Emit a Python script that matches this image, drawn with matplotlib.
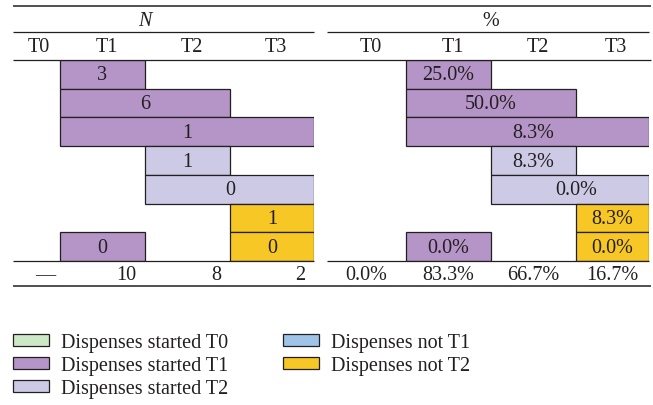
import numpy as np
import matplotlib
matplotlib.use('Agg')
import matplotlib.pyplot as plt
from matplotlib.patches import Patch
from matplotlib.lines import Line2D

plt.rcParams['font.family'] = ['Liberation Serif', 'DejaVu Serif']
plt.rcParams['font.size'] = 14.5
plt.rcParams['text.color'] = '#231f20'

# %% data

periods = ['T0', 'T1', 'T2', 'T3']

# one entry per bar: row (top = 0), first period, number of periods covered
bar_row = [0, 1, 2, 3, 4, 5, 6, 6]
bar_start = [1, 1, 1, 2, 2, 3, 1, 3]
bar_span = [1, 2, 3, 1, 2, 1, 1, 1]
bar_group = ['started T1', 'started T1', 'started T1', 'started T2',
             'started T2', 'not T2', 'started T1', 'not T2']
bar_n = [3, 6, 1, 1, 0, 1, 0, 0]
bar_pct = [25.0, 50.0, 8.3, 8.3, 0.0, 8.3, 0.0, 0.0]

total_n = ['—', '10', '8', '2']
total_pct = [0.0, 83.3, 66.7, 16.7]

legend_groups = ['started T0', 'started T1', 'started T2', 'not T1', 'not T2']
colors = {
    'started T0': '#cde8c6',
    'started T1': '#b595c7',
    'started T2': '#cdcae6',
    'not T1': '#9fc4e7',
    'not T2': '#f6c725',
}

# %% layout

W, H = 653, 406
n_rows = 7
table_top, table_bottom = 61, 262      # pixels of the bar area
row_px = (table_bottom - table_top) / n_rows

def y_of(px):
    # pixel row -> data row
    return (px - table_top) / row_px

# column boundaries (pixels from panel left); T0 is cut short on the left
panels = [
    dict(left=13, edges=[0, 47, 132, 217, 301], title='N', style='italic'),
    dict(left=327, edges=[0, 79, 164, 249, 322], title='%', style='normal'),
]

fig = plt.figure(figsize=(W / 100, H / 100), dpi=100)

axes = []
for p in panels:
    edges = p['edges']
    ax = fig.add_axes([p['left'] / W, 1 - table_bottom / H,
                       edges[-1] / W, (table_bottom - table_top) / H])
    idx = np.arange(len(edges))
    ax.set_xscale('function', functions=(
        lambda x, e=edges, i=idx: np.interp(x, i, e),
        lambda x, e=edges, i=idx: np.interp(x, e, i)))
    ax.set_xlim(0, 4)
    ax.set_ylim(n_rows, 0)
    ax.axis('off')
    axes.append(ax)

ax_n, ax_p = axes

for ax, labels in [(ax_n, [str(v) for v in bar_n]),
                   (ax_p, ['%.1f%%' % v for v in bar_pct])]:
    ax.barh(np.array(bar_row) + 0.5, bar_span, left=bar_start, height=1.0,
            color=[colors[g] for g in bar_group], edgecolor='#231f20',
            linewidth=0.9)
    for r, s, w, lab in zip(bar_row, bar_start, bar_span, labels):
        ax.text(s + w / 2, r + 0.52, lab, ha='center', va='center')

# headers and panel titles
for ax, p in zip(axes, panels):
    ax.text(2.0, y_of(21), p['title'], ha='center', va='center',
            style=p['style'])
    for i, name in enumerate(periods):
        ax.text(i + 0.55, y_of(48), name, ha='center', va='center')
    # split rules under the title and under the bars
    for ypx in [33, 262]:
        ax.plot([0, 4], [y_of(ypx), y_of(ypx)], color='#231f20', lw=0.9,
                clip_on=False, solid_capstyle='butt')

# totals row
for i, v in enumerate(total_n):
    ax_n.text(i + 0.9, y_of(276), v, ha='right', va='center')
for i, v in enumerate(total_pct):
    ax_p.text(i + 0.5, y_of(276), '%.1f%%' % v, ha='center', va='center')

# full-width rules
for ypx, lw in [(7, 1.1), (61, 0.9), (287, 1.1)]:
    fig.add_artist(Line2D([13 / W, 651 / W], [1 - ypx / H, 1 - ypx / H],
                          color='#231f20', lw=lw, solid_capstyle='butt'))

handles = [Patch(facecolor=colors[g], edgecolor='#231f20', linewidth=0.9,
                 label='Dispenses ' + g) for g in legend_groups]
fig.legend(handles=handles, ncol=2, loc='upper left',
           bbox_to_anchor=(13 / W, 1 - 334 / H), frameon=False,
           borderpad=0, borderaxespad=0, handlelength=1.8,
           handleheight=0.5, handletextpad=0.6, labelspacing=0.2,
           columnspacing=2.7)

plt.savefig('out.png', dpi=100)
